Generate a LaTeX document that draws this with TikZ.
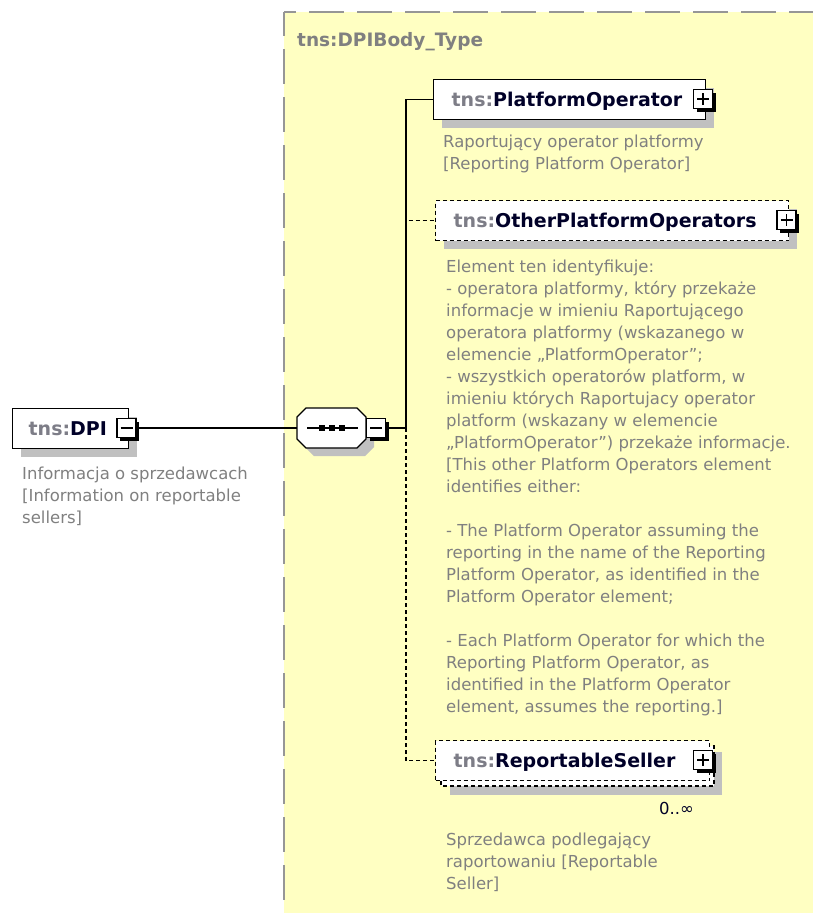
\documentclass[tikz,border=0pt]{standalone}
\usepackage{fontspec}
\setmainfont{DejaVu Sans}
\usetikzlibrary{shadows}
\definecolor{boxyellow}{RGB}{255,255,194}
\definecolor{framegray}{RGB}{150,150,150}
\definecolor{descgray}{RGB}{128,128,128}
\definecolor{prefixgray}{RGB}{125,125,135}
\definecolor{namecol}{RGB}{0,0,40}
\definecolor{shadegray}{RGB}{192,192,192}
\newcommand{\elname}[1]{\fontsize{19}{22}\selectfont\bfseries\textcolor{prefixgray}{tns:}\textcolor{namecol}{#1}}
\tikzset{
  boxshadow/.style={drop shadow={shadow xshift=8pt, shadow yshift=-8pt, fill=shadegray, opacity=1}},
  elembox/.style={draw=black, line width=1.3pt, fill=white, anchor=north west, minimum height=40pt,
     inner ysep=0pt, align=left, text height=15pt, text depth=1pt},
  optbox/.style={elembox, dash pattern=on 4pt off 3pt},
  expander/.style={draw=black, fill=white, line width=1.2pt, minimum size=19pt, inner sep=0pt,
     drop shadow={shadow xshift=3pt, shadow yshift=-3pt, fill=black, opacity=1}},
  minusicon/.style={expander, path picture={\draw[line width=1.3pt] ([xshift=3.5pt]path picture bounding box.west) -- ([xshift=-3.5pt]path picture bounding box.east);}},
  plusicon/.style={expander, path picture={\draw[line width=1.3pt] ([xshift=3.5pt]path picture bounding box.west) -- ([xshift=-3.5pt]path picture bounding box.east); \draw[line width=1.3pt] ([yshift=-3.5pt]path picture bounding box.north) -- ([yshift=3.5pt]path picture bounding box.south);}},
  desc/.style={anchor=north west, inner sep=0pt, align=left, text=descgray, font=\fontsize{16.5}{22}\selectfont},
  conn/.style={draw=black, line width=1.3pt},
  optconn/.style={conn, dash pattern=on 4pt off 3pt},
}
\begin{document}
\begin{tikzpicture}[x=1pt,y=-1pt]
\useasboundingbox (0,0) rectangle (813,913);
\fill[white] (0,0) rectangle (813,913);
% complex type frame
\fill[boxyellow] (284,12) rectangle (813,913);
\draw[framegray, line width=2pt, dash pattern=on 35pt off 13pt, dash phase=23pt] (284,12) -- (813,12);
\draw[framegray, line width=2pt, dash pattern=on 35pt off 13pt, dash phase=11pt] (284,12) -- (284,913);
\node[anchor=base west, inner sep=0pt, text=descgray, font=\fontsize{18.5}{22}\selectfont\bfseries] (title) at (297,46) {tns:DPIBody\_Type};

% root element
\node[elembox, boxshadow, inner xsep=16pt, text width=84pt] (dpi) at (12,408) {\elname{DPI}};
\node[minusicon] (dpiicon) at (126.5,428) {};
\node[desc] (dpidesc) at (22,463.6) {\strut Informacja o sprzedawcach\\{}[Information on reportable\\sellers]};

% sequence compositor (octagon drawn round an invisible node)
\node[minimum width=69pt, minimum height=40pt, inner sep=0pt] (seq) at (331.5,428) {};
\fill[shadegray] (305,425) -- (314,416) -- (365,416) -- (374,425) -- (374,447) -- (365,456) -- (314,456) -- (305,447) -- cycle;
\draw[line width=1.3pt, fill=white] (297,417) -- (306,408) -- (357,408) -- (366,417) -- (366,439) -- (357,448) -- (306,448) -- (297,439) -- cycle;
\draw[line width=1.3pt] (307,428) -- (358,428);
\fill (319,425) rectangle (325,431);
\fill (329,425) rectangle (335,431);
\fill (339,425) rectangle (345,431);
\node[minusicon] (seqicon) at (376,428) {};

% PlatformOperator
\node[elembox, boxshadow, inner xsep=18pt, text width=236pt] (po) at (433,79) {\elname{PlatformOperator}};
\node[plusicon] (poicon) at (703,99) {};
\node[desc] (podesc) at (443,131.6) {\strut Raportujący operator platformy\\{}[Reporting Platform Operator]};

% OtherPlatformOperators
\node[optbox, boxshadow, inner xsep=18pt, text width=317pt] (opo) at (435,200) {\elname{OtherPlatformOperators}};
\node[plusicon] (opoicon) at (786.5,220) {};
\node[desc] (opodesc) at (446,256.6) {\strut Element ten identyfikuje:\\
- operatora platformy, który przekaże\\
informacje w imieniu Raportującego\\
operatora platformy (wskazanego w\\
elemencie „PlatformOperator”;\\
- wszystkich operatorów platform, w\\
imieniu których Raportujacy operator\\
platform (wskazany w elemencie\\
„PlatformOperator”) przekaże informacje.\\{}[This other Platform Operators element\\
identifies either:\\
\strut\\
- The Platform Operator assuming the\\
reporting in the name of the Reporting\\
Platform Operator, as identified in the\\
Platform Operator element;\\
\strut\\
- Each Platform Operator for which the\\
Reporting Platform Operator, as\\
identified in the Platform Operator\\
element, assumes the reporting.]};

% ReportableSeller (repeating)
\fill[shadegray] (450,752) rectangle (722,795);
\draw[line width=1.3pt, dash pattern=on 4pt off 3pt, fill=white] (441,746) rectangle (714,786);
\node[optbox, inner xsep=18pt, text width=238pt] (rs) at (435,740) {\elname{ReportableSeller}};
\node[plusicon] (rsicon) at (703,760) {};
\node[anchor=base east, inner sep=0pt, text=namecol, font=\fontsize{16.5}{22}\selectfont] (mult) at (694,814) {0..∞};
\node[desc] (rsdesc) at (446,829.6) {\strut Sprzedawca podlegający\\raportowaniu [Reportable\\Seller]};

% connectors
\coordinate (trunk) at (406,428);
\draw[conn] (dpiicon.east) -- (seq.west);
\draw[conn] (seqicon.east) -- (trunk);
\draw[optconn] (trunk) |- (rs.west);
\draw[optconn] (trunk) |- (opo.west);
\draw[conn] (trunk) |- (po.west);
\end{tikzpicture}
\end{document}
